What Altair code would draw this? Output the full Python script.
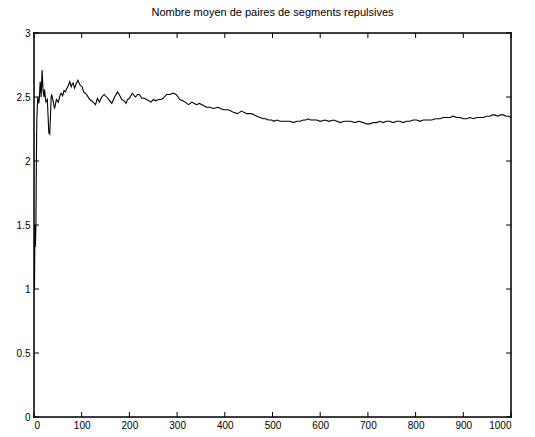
import altair as alt
import pandas as pd

# Running mean of the number of repulsive segment pairs, per iteration
iterations = [1, 2, 3, 4, 5, 6, 7, 8, 10, 11, 13, 15, 17, 19, 21, 22, 24, 25, 28, 31,
              33, 36, 37, 40, 43, 47, 51, 55, 57, 60, 63, 66, 68, 72, 75, 78, 80, 82, 85, 88,
              92, 97, 101, 104, 110, 117, 124, 129, 133, 137, 142, 147, 152, 157, 163, 169, 175, 180, 184, 189,
              193, 196, 200, 206, 210, 213, 217, 221, 226, 231, 236, 241, 245, 250, 255, 261, 266, 271, 278, 285,
              292, 298, 302, 306, 312, 317, 324, 331, 336, 341, 347, 352, 357, 362, 369, 376, 386, 391, 397, 402,
              407, 413, 418, 426, 431, 435, 440, 446, 451, 456, 462, 467, 474, 481, 486, 491, 498, 503, 509, 516,
              523, 530, 537, 544, 551, 558, 565, 570, 575, 580, 586, 593, 600, 610, 618, 628, 635, 642, 650, 656,
              664, 673, 681, 690, 697, 704, 711, 718, 725, 732, 739, 746, 753, 760, 767, 774, 781, 788, 795, 802,
              809, 816, 825, 834, 842, 851, 858, 865, 872, 879, 886, 893, 900, 907, 914, 921, 928, 935, 942, 949,
              956, 961, 966, 972, 978, 984, 990, 995, 1000]
mean_pairs = [1.0, 1.5, 1.33, 1.5, 2.0, 2.33, 2.43, 2.5, 2.45, 2.48, 2.62, 2.5, 2.71, 2.55, 2.50, 2.56, 2.49, 2.46, 2.48, 2.22,
              2.21, 2.50, 2.52, 2.47, 2.41, 2.48, 2.46, 2.52, 2.53, 2.51, 2.55, 2.54, 2.56, 2.59, 2.62, 2.58, 2.60, 2.61, 2.57, 2.60,
              2.63, 2.59, 2.58, 2.54, 2.52, 2.48, 2.46, 2.44, 2.49, 2.46, 2.50, 2.52, 2.50, 2.48, 2.45, 2.50, 2.54, 2.51, 2.48, 2.47,
              2.45, 2.48, 2.49, 2.53, 2.51, 2.50, 2.52, 2.52, 2.49, 2.49, 2.48, 2.47, 2.46, 2.48, 2.47, 2.48, 2.48, 2.49, 2.52, 2.52,
              2.53, 2.52, 2.50, 2.48, 2.47, 2.46, 2.44, 2.46, 2.45, 2.44, 2.45, 2.44, 2.43, 2.42, 2.42, 2.41, 2.42, 2.41, 2.40, 2.40,
              2.40, 2.39, 2.38, 2.37, 2.38, 2.39, 2.38, 2.37, 2.37, 2.37, 2.36, 2.35, 2.34, 2.33, 2.33, 2.32, 2.32, 2.31, 2.32, 2.31,
              2.31, 2.31, 2.31, 2.30, 2.31, 2.31, 2.32, 2.32, 2.33, 2.32, 2.32, 2.32, 2.31, 2.32, 2.31, 2.32, 2.31, 2.30, 2.31, 2.31,
              2.31, 2.30, 2.31, 2.30, 2.29, 2.29, 2.30, 2.30, 2.31, 2.30, 2.31, 2.31, 2.30, 2.31, 2.31, 2.30, 2.31, 2.31, 2.32, 2.32,
              2.31, 2.32, 2.32, 2.32, 2.33, 2.33, 2.34, 2.34, 2.34, 2.35, 2.34, 2.34, 2.33, 2.33, 2.34, 2.33, 2.34, 2.34, 2.34, 2.35,
              2.35, 2.36, 2.36, 2.35, 2.36, 2.36, 2.35, 2.35, 2.34]

x_ticks = [0, 100, 200, 300, 400, 500, 600, 700, 800, 900, 1000]
y_ticks = [0, 0.5, 1, 1.5, 2, 2.5, 3]

W, H = 477, 384
TICK = 5
FONT = "Liberation Sans"

df = pd.DataFrame({"n": iterations, "mean": mean_pairs})
xt = pd.DataFrame({"t": x_ticks})
yt = pd.DataFrame({"t": y_ticks})
one = pd.DataFrame({"k": [0]})

xscale = alt.Scale(domain=[0, 1000], nice=False, zero=False)
yscale = alt.Scale(domain=[0, 3], nice=False, zero=False)

line = alt.Chart(df).mark_line(color="black", strokeWidth=1.1, clip=True).encode(
    x=alt.X("n:Q", scale=xscale,
            axis=alt.Axis(values=x_ticks, format="d", title=None, tickSize=0,
                          labelPadding=3, domain=False, grid=False)),
    y=alt.Y("mean:Q", scale=yscale,
            axis=alt.Axis(values=y_ticks, format="~g", title=None, tickSize=0,
                          labelPadding=4, domain=False, grid=False)),
)

# inward-pointing ticks on all four sides of the box
tick_bottom = alt.Chart(xt).mark_rule(color="black", strokeWidth=1).encode(
    x=alt.X("t:Q", scale=xscale), y=alt.value(H), y2=alt.value(H - TICK))
tick_top = alt.Chart(xt).mark_rule(color="black", strokeWidth=1).encode(
    x=alt.X("t:Q", scale=xscale), y=alt.value(0), y2=alt.value(TICK))
tick_left = alt.Chart(yt).mark_rule(color="black", strokeWidth=1).encode(
    y=alt.Y("t:Q", scale=yscale), x=alt.value(0), x2=alt.value(TICK))
tick_right = alt.Chart(yt).mark_rule(color="black", strokeWidth=1).encode(
    y=alt.Y("t:Q", scale=yscale), x=alt.value(W), x2=alt.value(W - TICK))

# the surrounding box
box_style = dict(color="black", strokeWidth=1.5, strokeCap="square")
box_bottom = alt.Chart(one).mark_rule(**box_style).encode(
    x=alt.value(0), x2=alt.value(W), y=alt.value(H))
box_top = alt.Chart(one).mark_rule(**box_style).encode(
    x=alt.value(0), x2=alt.value(W), y=alt.value(0))
box_left = alt.Chart(one).mark_rule(**box_style).encode(
    y=alt.value(0), y2=alt.value(H), x=alt.value(0))
box_right = alt.Chart(one).mark_rule(**box_style).encode(
    y=alt.value(0), y2=alt.value(H), x=alt.value(W))

chart = alt.layer(line, tick_bottom, tick_top, tick_left, tick_right,
                  box_bottom, box_top, box_left, box_right).properties(
    width=W, height=H,
    title=alt.TitleParams("Nombre moyen de paires de segments repulsives",
                          fontSize=11, font=FONT, fontWeight="normal",
                          color="black", anchor="middle", offset=10),
    autosize=alt.AutoSizeParams(type="none"),
    padding={"left": 34, "top": 33, "right": 24, "bottom": 20},
).configure_view(
    stroke=None
).configure_axis(
    labelFont=FONT, labelFontSize=10, labelColor="black"
).configure(background="white")

chart.save("out.html", embed_options={"renderer": "svg", "actions": False})
